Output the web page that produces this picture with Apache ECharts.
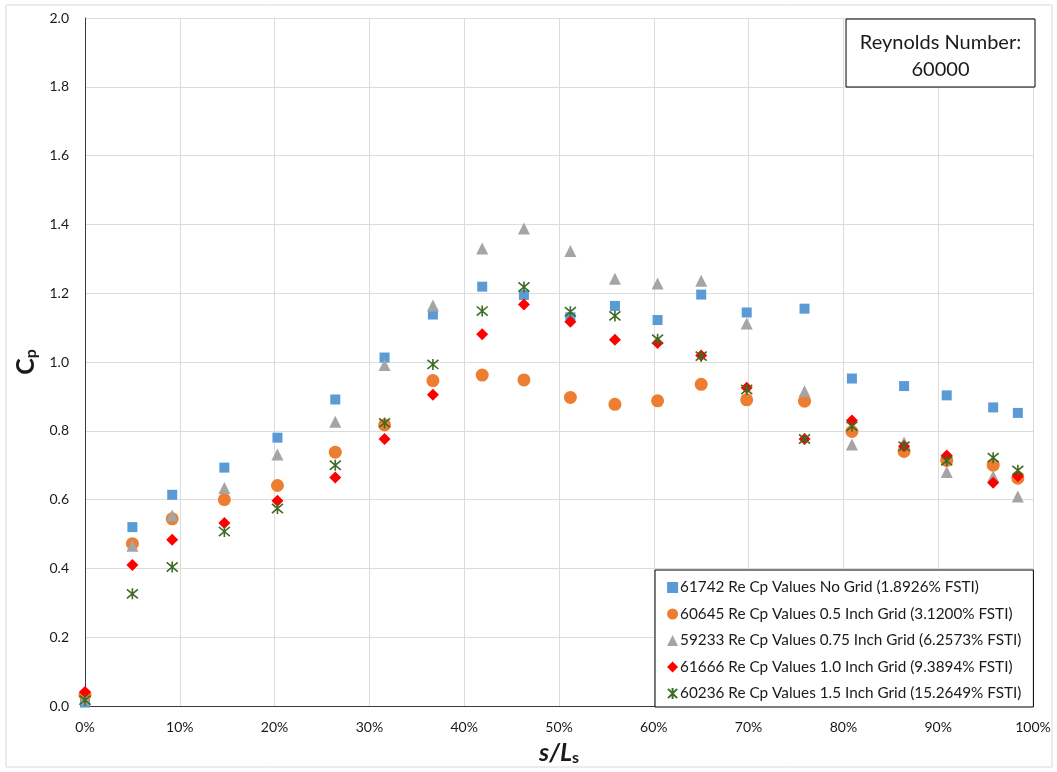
<!DOCTYPE html>
<html>
<head>
<meta charset="utf-8">
<script src="https://cdn.jsdelivr.net/npm/echarts@6/dist/echarts.min.js"></script>
<style>
  html, body { margin: 0; padding: 0; background: #fff; }
  #chart { width: 1057px; height: 772px; }
</style>
</head>
<body>
<div id="chart"></div>
<script>
// Surface position along the blade, percent of s/Ls
const sPct = [0, 5.0, 9.2, 14.7, 20.3, 26.4, 31.6, 36.7, 41.9, 46.3, 51.2, 55.9, 60.4, 65.0, 69.8, 75.9, 80.9, 86.4, 90.9, 95.8, 98.4];

// Pressure coefficient for each turbulence grid case
const cpNoGrid   = [0.01, 0.52, 0.614, 0.693, 0.78, 0.891, 1.013, 1.138, 1.219, 1.195, 1.13, 1.163, 1.122, 1.196, 1.144, 1.155, 0.952, 0.93, 0.903, 0.868, 0.852];
const cpGrid050  = [0.032, 0.472, 0.544, 0.60, 0.641, 0.738, 0.817, 0.946, 0.962, 0.948, 0.897, 0.877, 0.887, 0.935, 0.89, 0.886, 0.798, 0.74, 0.714, 0.70, 0.662];
const cpGrid075  = [0.02, 0.466, 0.554, 0.634, 0.731, 0.826, 0.991, 1.164, 1.330, 1.388, 1.323, 1.242, 1.228, 1.236, 1.112, 0.915, 0.76, 0.766, 0.68, 0.668, 0.609];
const cpGrid100  = [0.041, 0.41, 0.483, 0.532, 0.597, 0.664, 0.776, 0.905, 1.081, 1.167, 1.117, 1.065, 1.055, 1.019, 0.925, 0.776, 0.83, 0.755, 0.728, 0.649, 0.668];
const cpGrid150  = [0.017, 0.326, 0.404, 0.507, 0.574, 0.70, 0.823, 0.993, 1.148, 1.218, 1.146, 1.134, 1.066, 1.017, 0.92, 0.776, 0.813, 0.755, 0.713, 0.722, 0.685];

const seriesNames = [
  '61742 Re Cp Values No Grid (1.8926% FSTI)',
  '60645 Re Cp Values 0.5 Inch Grid (3.1200% FSTI)',
  '59233 Re Cp Values 0.75 Inch Grid (6.2573% FSTI)',
  '61666 Re Cp Values 1.0 Inch Grid (9.3894% FSTI)',
  '60236 Re Cp Values 1.5 Inch Grid (15.2649% FSTI)'
];

const boxText = 'Reynolds Number:\n60000';

const FONT = 'Lato, "Open Sans", sans-serif';
const pairs = ys => sPct.map((x, i) => [x, ys[i]]);
const asterisk = 'path://M0,0L10,10M10,0L0,10M5,-1L5,11';

const chart = echarts.init(document.getElementById('chart'), null, { renderer: 'canvas' });

chart.setOption({
  animation: false,
  backgroundColor: '#ffffff',
  textStyle: { fontFamily: FONT },
  grid: { left: 85, right: 24, top: 18, bottom: 66, containLabel: false },
  xAxis: {
    type: 'value',
    min: 0, max: 100, interval: 10,
    axisLine: { show: true, onZero: false, lineStyle: { color: '#3a3a3a', width: 1 } },
    axisTick: { show: false },
    splitLine: { show: true, lineStyle: { color: '#dcdcdc', width: 1 } },
    axisLabel: { formatter: '{value}%', color: '#1a1a1a', fontSize: 14, margin: 14, fontFamily: FONT },
    name: '{a|s/L}{b|s}',
    nameLocation: 'middle',
    nameGap: 34,
    nameTextStyle: {
      rich: {
        a: { fontSize: 25, fontWeight: 'bold', fontStyle: 'italic', color: '#1a1a1a', fontFamily: FONT },
        b: { fontSize: 16, fontWeight: 'bold', color: '#1a1a1a', fontFamily: FONT, verticalAlign: 'bottom', padding: [10, 0, 0, 0] }
      }
    }
  },
  yAxis: {
    type: 'value',
    min: 0, max: 2, interval: 0.2,
    axisLine: { show: true, onZero: false, lineStyle: { color: '#3a3a3a', width: 1 } },
    axisTick: { show: false },
    splitLine: { show: true, lineStyle: { color: '#dcdcdc', width: 1 } },
    axisLabel: { formatter: v => v.toFixed(1), color: '#1a1a1a', fontSize: 14, margin: 16, fontFamily: FONT },
    name: '{a|C}{b|p}',
    nameLocation: 'middle',
    nameRotate: 90,
    nameGap: 44,
    nameTextStyle: {
      rich: {
        a: { fontSize: 25, fontWeight: 'bold', color: '#1a1a1a', fontFamily: FONT },
        b: { fontSize: 16, fontWeight: 'bold', color: '#1a1a1a', fontFamily: FONT, verticalAlign: 'bottom', padding: [10, 0, 0, 0] }
      }
    }
  },
  legend: {
    orient: 'vertical',
    left: 655, top: 570,
    backgroundColor: '#ffffff',
    borderColor: '#000000', borderWidth: 1,
    padding: [10, 12, 6, 12],
    itemGap: 11.5,
    itemWidth: 11, itemHeight: 11,
    textStyle: { fontSize: 15.3, color: '#1a1a1a', fontFamily: FONT, padding: [0, 0, 0, -3] },
    data: seriesNames
  },
  graphic: [
    {
      type: 'rect', silent: true, z: -1,
      shape: { x: 6, y: 5, width: 1046, height: 762 },
      style: { fill: 'none', stroke: '#d9d9d9', lineWidth: 1 }
    },
    {
      type: 'rect', silent: true, z: 100,
      shape: { x: 846, y: 19, width: 189, height: 68 },
      style: { fill: '#ffffff', stroke: '#000000', lineWidth: 1 }
    },
    {
      type: 'text', silent: true, z: 101,
      x: 940.5, y: 56,
      style: { text: boxText, fill: '#1a1a1a', font: '20px ' + FONT, align: 'center', verticalAlign: 'middle', lineHeight: 27 }
    }
  ],
  series: [
    { name: seriesNames[0], type: 'scatter', symbol: 'rect', symbolSize: 10,
      itemStyle: { color: '#5b9bd5', opacity: 1 }, data: pairs(cpNoGrid) },
    { name: seriesNames[1], type: 'scatter', symbol: 'circle', symbolSize: 13,
      itemStyle: { color: '#ed7d31', opacity: 1 }, data: pairs(cpGrid050) },
    { name: seriesNames[2], type: 'scatter', symbol: 'triangle', symbolSize: 12,
      itemStyle: { color: '#a5a5a5', opacity: 1 }, data: pairs(cpGrid075) },
    { name: seriesNames[3], type: 'scatter', symbol: 'diamond', symbolSize: 12,
      itemStyle: { color: '#ff0000', opacity: 1 }, data: pairs(cpGrid100) },
    { name: seriesNames[4], type: 'scatter', symbol: asterisk, symbolSize: 11,
      itemStyle: { color: 'rgba(0,0,0,0)', borderColor: '#3e6b24', borderWidth: 1.6, opacity: 1 }, data: pairs(cpGrid150) }
  ]
});
</script>
</body>
</html>
